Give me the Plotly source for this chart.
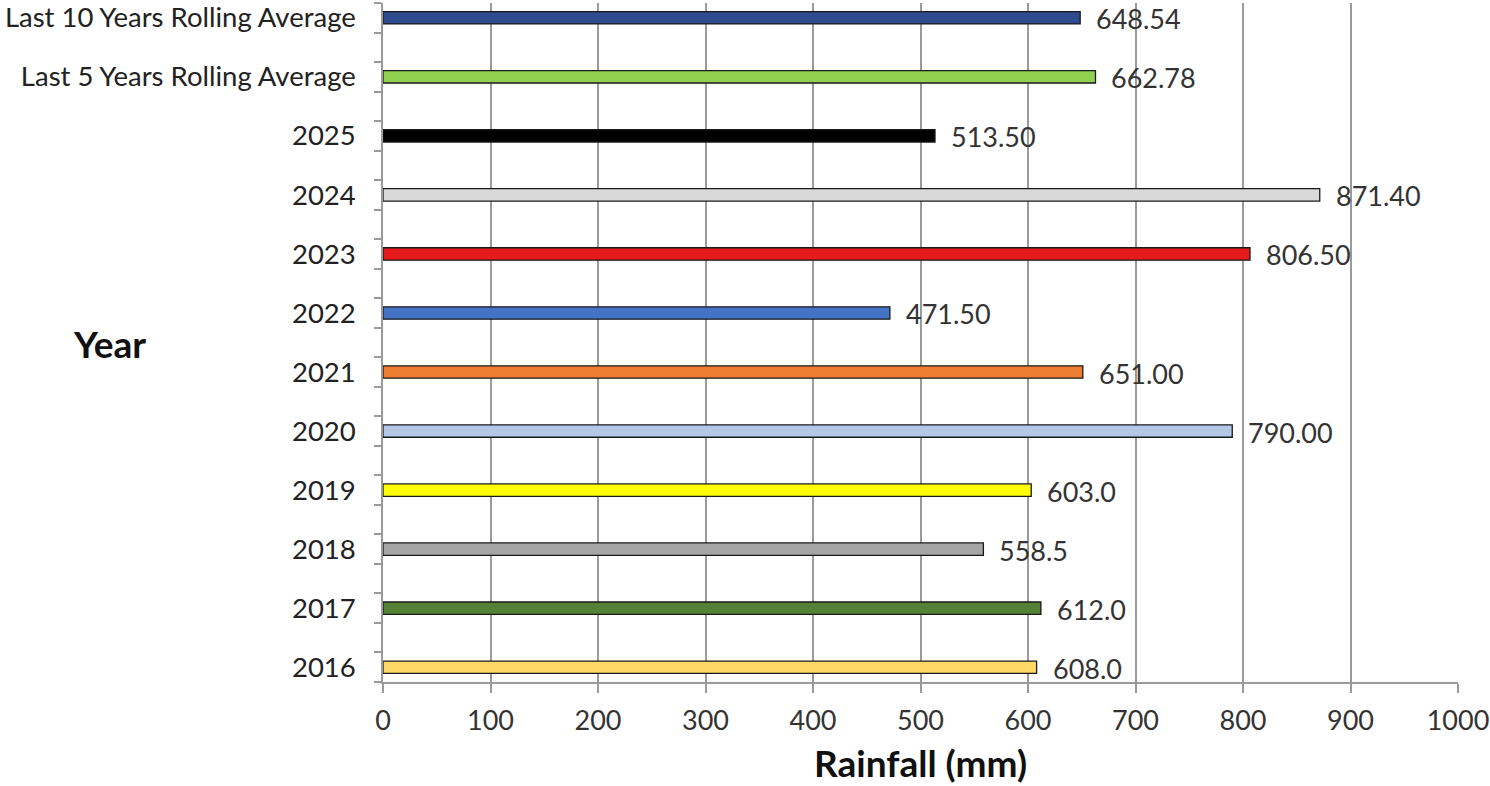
import plotly.graph_objects as go

# Data (top to bottom as shown)
labels = ["Last 10 Years Rolling Average", "Last 5 Years Rolling Average",
          "2025", "2024", "2023", "2022", "2021", "2020", "2019", "2018", "2017", "2016"]
values = [648.54, 662.78, 513.50, 871.40, 806.50, 471.50, 651.00, 790.00, 603.0, 558.5, 612.0, 608.0]
value_text = ["648.54", "662.78", "513.50", "871.40", "806.50", "471.50",
              "651.00", "790.00", "603.0", "558.5", "612.0", "608.0"]
colors = ["#2E4B8F", "#92D050", "#000000", "#D9D9D9", "#E41A1C", "#4472C4",
          "#ED7D31", "#B4C7E7", "#FFFF00", "#A5A5A5", "#548235", "#FFD966"]
x_ticks = [0, 100, 200, 300, 400, 500, 600, 700, 800, 900, 1000]

n = len(labels)
# each bar sits in its own slot with an empty slot between bars
ypos = [2 * (n - 1 - i) for i in range(n)]

FONT = "Lato"
L, R, T, B = 383, 32, 0, 104
W, H = 1490, 786
pw, ph = W - L - R, H - T - B

fig = go.Figure()
fig.add_trace(go.Bar(
    x=values, y=ypos, orientation="h", width=0.42,
    marker=dict(color=colors, line=dict(color="#1a1a1a", width=1.3)),
    hoverinfo="skip", showlegend=False,
))

annotations = []
for v, t, yp in zip(values, value_text, ypos):
    annotations.append(dict(x=v, y=yp, xref="x", yref="y", text=t, showarrow=False,
                            xanchor="left", yanchor="middle", xshift=14, yshift=-1,
                            font=dict(family=FONT, size=27, color="#333333")))
annotations.append(dict(x=(109 - L) / pw, y=1 - (342 - T) / ph, xref="paper", yref="paper",
                        text="<b>Year</b>", showarrow=False, xanchor="center", yanchor="middle",
                        font=dict(family=FONT, size=37, color="#111111")))
annotations.append(dict(x=0.5, y=1 - (763 - T) / ph, xref="paper", yref="paper",
                        text="<b>Rainfall (mm)</b>", showarrow=False,
                        xanchor="center", yanchor="middle",
                        font=dict(family=FONT, size=37, color="#111111")))

fig.update_layout(
    width=W, height=H,
    margin=dict(l=L, r=R, t=T, b=B, pad=0),
    paper_bgcolor="white", plot_bgcolor="white",
    font=dict(family=FONT, size=27, color="#333333"),
    annotations=annotations,
    xaxis=dict(
        range=[0, 1000], tickvals=x_ticks, ticktext=[str(v) for v in x_ticks],
        showgrid=True, gridcolor="#9a9a9a", gridwidth=1.5,
        showline=True, linecolor="#9a9a9a", linewidth=1.5,
        ticks="outside", ticklen=9, tickcolor="#9a9a9a", tickwidth=1.5,
        ticklabelstandoff=5, zeroline=False, ticklabeloverflow="allow",
        tickfont=dict(family=FONT, size=27, color="#333333"),
    ),
    yaxis=dict(
        range=[-0.5, 2 * (n - 1) + 0.5], tickvals=ypos, ticktext=labels,
        showgrid=False, zeroline=False,
        showline=True, linecolor="#9a9a9a", linewidth=1.5,
        ticks="", ticklabelstandoff=20, ticklabeloverflow="allow",
        tickfont=dict(family=FONT, size=27.5, color="#222222"),
        minor=dict(tickmode="linear", tick0=-0.5, dtick=1, ticks="outside",
                   ticklen=7, tickcolor="#9a9a9a", tickwidth=1.5, showgrid=False),
    ),
)

fig.write_html("out.html", config={"displayModeBar": False},
               post_script="document.body.style.margin='0';document.body.style.overflow='hidden';")
